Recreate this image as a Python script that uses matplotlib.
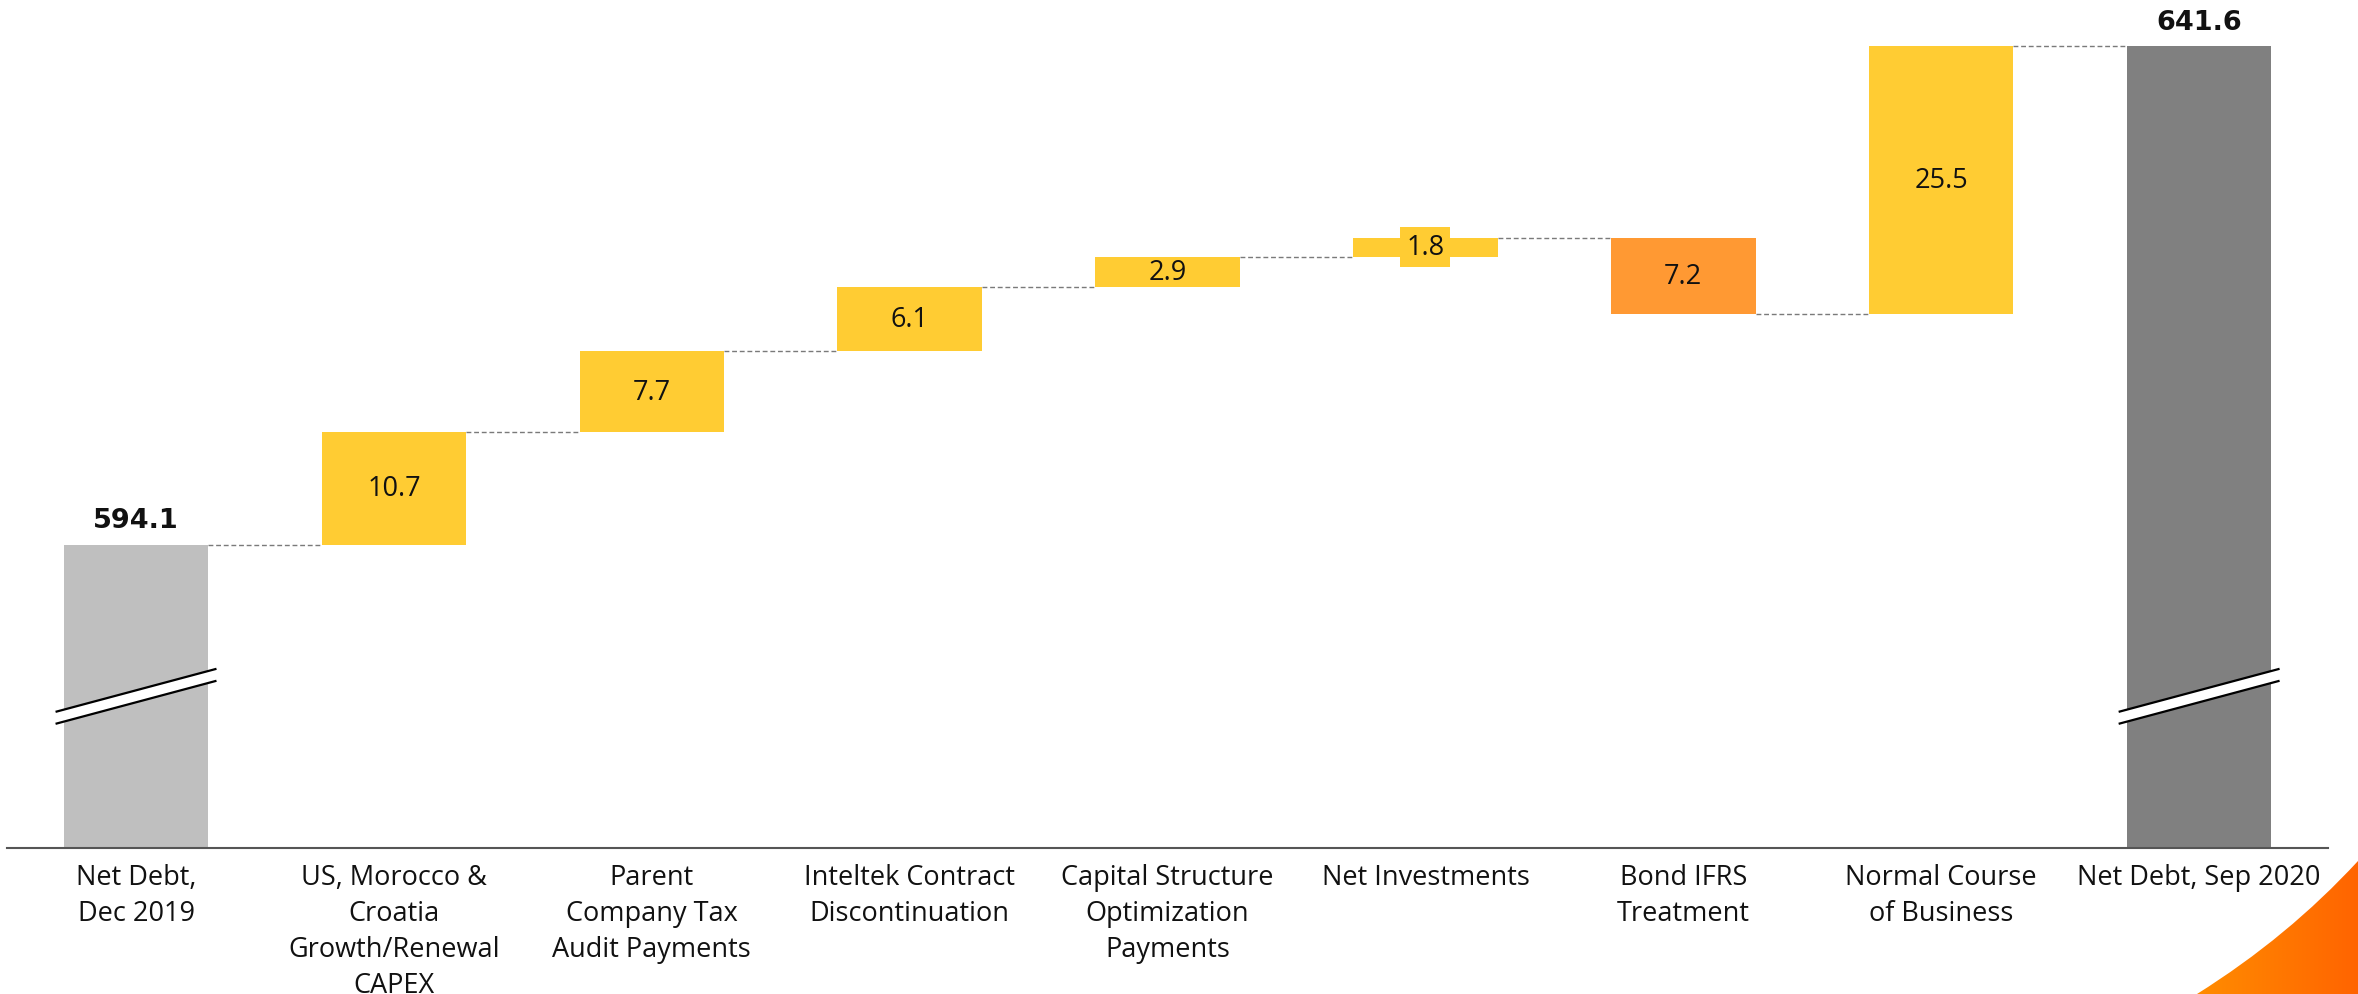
"""Net debt bridge, Dec 2019 -> Sep 2020 (waterfall with broken axis)."""

import numpy as np
import matplotlib.pyplot as plt
from matplotlib.patches import Polygon, PathPatch
from matplotlib.path import Path
from matplotlib.colors import LinearSegmentedColormap

# --- data ---
categories = [
    "Net Debt,\nDec 2019",
    "US, Morocco &\nCroatia\nGrowth/Renewal\nCAPEX",
    "Parent\nCompany Tax\nAudit Payments",
    "Inteltek Contract\nDiscontinuation",
    "Capital Structure\nOptimization\nPayments",
    "Net Investments",
    "Bond IFRS\nTreatment",
    "Normal Course\nof Business",
    "Net Debt, Sep 2020",
]
start_total = 594.1
changes = [10.7, 7.7, 6.1, 2.9, 1.8, -7.2, 25.5]
end_total = 641.6

# --- style ---
YELLOW = "#FFCC33"
ORANGE = "#FF9933"
START_GREY = "#BFBFBF"
END_GREY = "#808080"
DARK = "#111111"
FONT = "Open Sans"
FS = 19.5

plt.rcParams.update({
    "font.family": [FONT, "DejaVu Sans"],
    "font.size": FS,
})

Y_LO, Y_HI = 565.2, 646.06
W = 0.56

fig = plt.figure(figsize=(23.58, 9.95), dpi=100)
ax = fig.add_axes([0.003, 0.1467, 0.9843, 0.8533])
ax.set_xlim(-0.5, 8.5)
ax.set_ylim(Y_LO, Y_HI)

# running totals for the floating bars
bottoms, heights, colors = [], [], []
running = start_total
levels = [start_total]
for v in changes:
    bottoms.append(running if v > 0 else running + v)
    heights.append(abs(v))
    colors.append(YELLOW if v > 0 else ORANGE)
    running += v
    levels.append(running)

x_mid = np.arange(1, len(changes) + 1)
n = len(categories)

# totals
ax.bar(0, start_total, width=W, color=START_GREY, zorder=2)
ax.bar(n - 1, end_total, width=W, color=END_GREY, zorder=2)
# changes
ax.bar(x_mid, heights, bottom=bottoms, width=W, color=colors, zorder=2)

# dashed connectors between bars
for i, lvl in enumerate(levels):
    ax.plot([i + W / 2, i + 1 - W / 2], [lvl, lvl], ls=(0, (3.5, 2)),
            color="#7a7a7a", lw=1.0, zorder=1)

# value labels
for xi, b, h, v in zip(x_mid, bottoms, heights, changes):
    box = None
    if h < 2.5:
        box = dict(boxstyle="square,pad=0.22", fc=YELLOW, ec="none")
    ax.text(xi, b + h / 2, f"{abs(v):.1f}", ha="center", va="center",
            fontsize=FS, color=DARK, bbox=box, zorder=4)
for xi, tot in [(0, start_total), (n - 1, end_total)]:
    ax.annotate(f"{tot:.1f}", xy=(xi, tot), xytext=(0, 8),
                textcoords="offset points", ha="center", va="bottom",
                fontsize=FS, fontweight="bold", color=DARK,
                family="DejaVu Sans")


def axis_break(ax, x, y):
    """White slanted gap with two black edges across a total bar."""
    dx, dy, gap = 0.312, 2.05, 1.14
    top = [(x - dx, y - dy + gap / 2), (x + dx, y + dy + gap / 2)]
    bot = [(x - dx, y - dy - gap / 2), (x + dx, y + dy - gap / 2)]
    ax.add_patch(Polygon(top + bot[::-1], closed=True, fc="white",
                         ec="none", zorder=5, clip_on=False))
    for seg in (top, bot):
        xs, ys = zip(*seg)
        ax.plot(xs, ys, color="black", lw=1.6, zorder=6, solid_capstyle="butt")


y_break = (Y_LO + start_total) / 2
axis_break(ax, 0, y_break)
axis_break(ax, n - 1, y_break)

# axes cosmetics
for side in ("top", "right", "left"):
    ax.spines[side].set_visible(False)
ax.spines["bottom"].set_color("#555555")
ax.spines["bottom"].set_linewidth(1.5)
ax.set_yticks([])
ax.set_xticks(range(n))
ax.set_xticklabels(categories, fontsize=FS, color=DARK, linespacing=1.37)
ax.tick_params(axis="x", length=0, pad=11)

# orange corner swoosh
deco = fig.add_axes([0, 0, 1, 1], zorder=-1)
deco.set_xlim(0, 2358)
deco.set_ylim(0, 995)
deco.axis("off")
grad = np.linspace(0, 1, 256).reshape(1, -1)
cmap = LinearSegmentedColormap.from_list("sw", ["#FF8E00", "#FF6400"])
img = deco.imshow(grad, extent=(2190, 2358, 0, 140), cmap=cmap, aspect="auto")
path = Path([(2197, 0), (2288, 57), (2358, 133), (2370, 133), (2370, 0), (2197, 0)],
            [Path.MOVETO, Path.CURVE3, Path.CURVE3, Path.LINETO, Path.LINETO, Path.CLOSEPOLY])
clip = PathPatch(path, fc="none", ec="none", transform=deco.transData)
deco.add_patch(clip)
img.set_clip_path(clip)

fig.savefig("out.png", dpi=100, facecolor="white")
